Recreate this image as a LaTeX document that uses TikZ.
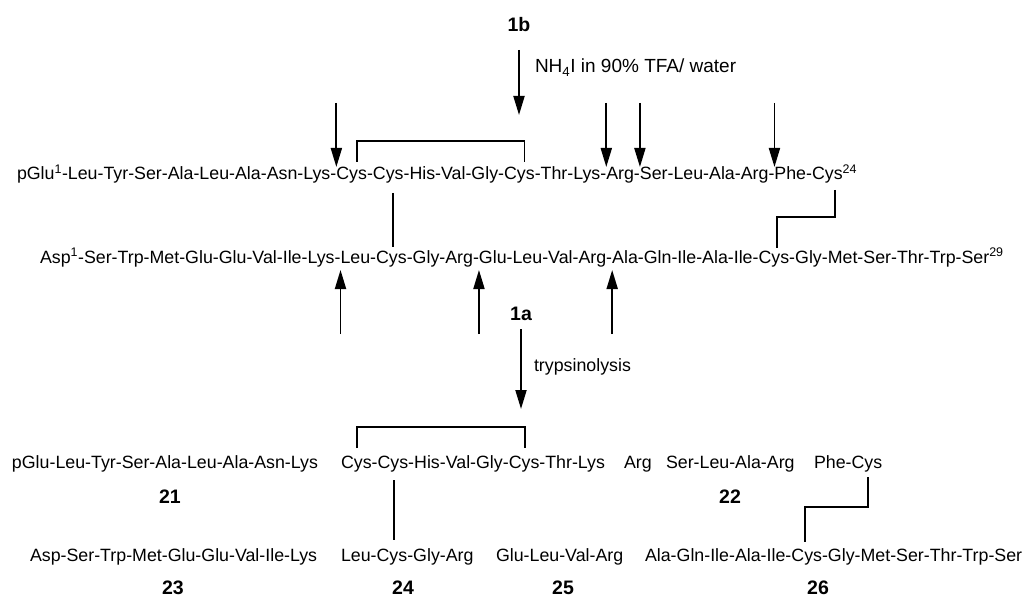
\documentclass[tikz,border=0pt]{standalone}
\usepackage{fontspec}
\setmainfont{Liberation Sans}
\usetikzlibrary{arrows.meta}
\begin{document}
\begin{tikzpicture}[x=1pt,y=-1pt,
  seq/.style={inner sep=0pt, outer sep=0pt, anchor=base west, font=\fontsize{17.8}{20}\selectfont},
  rgt/.style={inner sep=0pt, outer sep=0pt, anchor=base west, font=\fontsize{19}{21}\selectfont},
  lbl/.style={inner sep=0pt, outer sep=0pt, font=\fontsize{19.5}{21}\selectfont\bfseries},
  bond/.style={line width=1.8pt},
  cut/.style={line width=1.9pt, -{Triangle[length=19pt,width=11pt]}},
]
\useasboundingbox (0,0) rectangle (1028,604);

% ---------- row 1 ----------
\node[seq] (r1a) at (17,180) {pGlu\textsuperscript{1}-Leu-Tyr-Ser-Ala-Leu-Ala-Asn-Lys-};
\node[seq] (r1b) at (r1a.base east) {Cys};
\node[seq] (r1c) at (r1b.base east) {-};
\node[seq] (r1d) at (r1c.base east) {Cys};
\node[seq] (r1e) at (r1d.base east) {-His-Val-Gly-};
\node[seq] (r1f) at (r1e.base east) {Cys};
\node[seq] (r1g) at (r1f.base east) {-Thr-Lys-};
\node[seq] (r1h) at (r1g.base east) {Arg-};
\node[seq] (r1i) at (r1h.base east) {Ser-Leu-Ala-Arg-};
\node[seq] (r1j) at (r1i.base east) {Phe-};
\node[seq] (r1k) at (r1j.base east) {Cys};
\node[seq] (r1l) at (r1k.base east) {\textsuperscript{24}};

% ---------- row 2 ----------
\node[seq] (r2a) at (40,263) {Asp\textsuperscript{1}-Ser-Trp-Met-Glu-Glu-Val-Ile-Lys-};
\node[seq] (r2b) at (r2a.base east) {Leu-};
\node[seq] (r2c) at (r2b.base east) {Cys};
\node[seq] (r2d) at (r2c.base east) {-Gly-Arg-};
\node[seq] (r2e) at (r2d.base east) {Glu-Leu-Val-Arg-};
\node[seq] (r2f) at (r2e.base east) {Ala-Gln-Ile-Ala-Ile-};
\node[seq] (r2g) at (r2f.base east) {Cys};
\node[seq] (r2h) at (r2g.base east) {-Gly-Met-Ser-Thr-Trp-Ser};
\node[seq] (r2i) at (r2h.base east) {\textsuperscript{29}};

% ---------- row 3 ----------
\node[seq] (f21) at (12,468) {pGlu-Leu-Tyr-Ser-Ala-Leu-Ala-Asn-Lys};
\node[seq] (r3a) at (341,468) {Cys};
\node[seq] (r3b) at (r3a.base east) {-};
\node[seq] (r3c) at (r3b.base east) {Cys};
\node[seq] (r3d) at (r3c.base east) {-His-Val-Gly-};
\node[seq] (r3e) at (r3d.base east) {Cys};
\node[seq] (r3f) at (r3e.base east) {-Thr-Lys};
\node[seq] (r3g) at (624,468) {Arg};
\node[seq] (r3h) at (666,468) {Ser-Leu-Ala-Arg};
\node[seq] (r3i) at (814,468) {Phe-};
\node[seq] (r3j) at (r3i.base east) {Cys};

% ---------- row 4 ----------
\node[seq] (f23) at (30,561) {Asp-Ser-Trp-Met-Glu-Glu-Val-Ile-Lys};
\node[seq] (r4a) at (341,561) {Leu-};
\node[seq] (r4b) at (r4a.base east) {Cys};
\node[seq] (r4c) at (r4b.base east) {-Gly-Arg};
\node[seq] (r4d) at (496,561) {Glu-Leu-Val-Arg};
\node[seq] (r4e) at (645,561) {Ala-Gln-Ile-Ala-Ile-};
\node[seq] (r4f) at (r4e.base east) {Cys};
\node[seq] (r4g) at (r4f.base east) {-Gly-Met-Ser-Thr-Trp-Ser};

% ---------- labels ----------
\node[lbl] (l1b) at (519,25) {1b};
\node[lbl] (l1a) at (521,314) {1a};
\node[lbl] (n21) at (170,497) {21};
\node[lbl] (n22) at (730,497) {22};
\node[lbl] (n23) at (173,588) {23};
\node[lbl] (n24) at (403,588) {24};
\node[lbl] (n25) at (563,588) {25};
\node[lbl] (n26) at (818,588) {26};
\node[rgt] (rg1) at (535,73) {NH\textsubscript{4}I in 90\% TFA/ water};
\node[seq] (rg2) at (534,371) {trypsinolysis};

% ---------- reaction arrows ----------
\draw[cut] ([yshift=-25pt]l1b.center) -- ([yshift=-90pt]l1b.center);
\draw[cut] ([yshift=-15pt]l1a.center) -- ([yshift=-95pt]l1a.center);

% ---------- cleavage arrows, row 1 ----------
\draw[cut] ([yshift=77pt]r1b.base west) -- ([yshift=13pt]r1b.base west);
\draw[cut] ([yshift=77pt]r1h.base west) -- ([yshift=13pt]r1h.base west);
\draw[cut] ([yshift=77pt]r1i.base west) -- ([yshift=13pt]r1i.base west);
\draw[cut] ([yshift=77pt]r1j.base west) -- ([yshift=13pt]r1j.base west);

% ---------- cleavage arrows, row 2 ----------
\draw[cut] ([yshift=-71pt]r2b.base west) -- ([yshift=-7pt]r2b.base west);
\draw[cut] ([yshift=-71pt]r2e.base west) -- ([yshift=-7pt]r2e.base west);
\draw[cut] ([yshift=-71pt]r2f.base west) -- ([yshift=-7pt]r2f.base west);

% ---------- disulfide bonds ----------
\coordinate (b10) at ([xshift=5pt,yshift=18pt]r1b.base);
\coordinate (b15) at ([xshift=5pt,yshift=18pt]r1f.base);
\draw[bond] (b10) -- ++(0,-21) -| (b15);

\coordinate (b11) at ([xshift=5pt,yshift=-13pt]r1d.base);
\coordinate (b2c) at ([yshift=16pt]r2c.base);
\draw[bond] (b11) -- (b11 |- b2c);

\coordinate (b24) at ([xshift=8pt,yshift=-10pt]r1k.base);
\coordinate (b2g) at ([xshift=3pt,yshift=15pt]r2g.base);
\draw[bond] (b24) -- ++(0,27) -| (b2g);

\coordinate (b3a) at ([xshift=1pt,yshift=20pt]r3a.base);
\coordinate (b3e) at ([xshift=1pt,yshift=20pt]r3e.base);
\draw[bond] (b3a) -- ++(0,-21) -| (b3e);

\coordinate (b3c) at ([xshift=1pt,yshift=-12pt]r3c.base);
\coordinate (b4b) at ([yshift=21pt]r4b.base);
\draw[bond] (b3c) -- (b3c |- b4b);

\coordinate (b3j) at ([xshift=1pt,yshift=-9pt]r3j.base);
\coordinate (b4f) at ([xshift=-2pt,yshift=19pt]r4f.base);
\draw[bond] (b3j) -- ++(0,30) -| (b4f);
\end{tikzpicture}
\end{document}
